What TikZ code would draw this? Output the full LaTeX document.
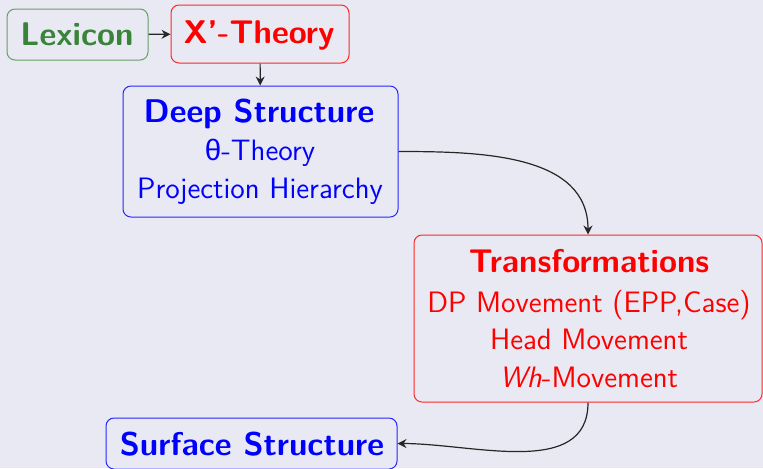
\documentclass[tikz,border=0pt]{standalone}
\usepackage{fontspec}
\usetikzlibrary{arrows.meta}
\newfontfamily\grk{Liberation Sans}
\definecolor{bg}{RGB}{233,233,243}
\definecolor{lexgreen}{RGB}{58,132,58}
\definecolor{lexborder}{RGB}{100,160,100}
\begin{document}
\begin{tikzpicture}[x=0.5pt,y=-0.5pt,
  box/.style={draw,rounded corners=4pt,line width=0.5pt,inner sep=0pt},
  title/.style={anchor=base,inner sep=0pt,font=\sffamily\bfseries\fontsize{16.4}{20}\selectfont},
  body/.style={anchor=base,inner sep=0pt,font=\sffamily\fontsize{14.76}{18}\selectfont},
  conn/.style={-{Stealth[length=4.5pt,width=4.5pt,inset=1.5pt]},line width=0.6pt,draw=black!85}]
\fill[bg] (0,0) rectangle (763,468);
\useasboundingbox (0,0) rectangle (763,468);
% boxes
\node[box,draw=lexborder,minimum width=70.5pt,minimum height=25.5pt] (lex) at (77.5,34.5) {};
\node[box,draw=red!85,minimum width=89pt,minimum height=29pt] (xbar) at (260,34) {};
\node[box,draw=blue!85,minimum width=137.5pt,minimum height=65.5pt] (deep) at (260.5,151.5) {};
\node[box,draw=red!85,minimum width=174pt,minimum height=83.5pt] (trans) at (588,318.5) {};
\node[box,draw=blue!85,minimum width=145.5pt,minimum height=25.5pt] (surf) at (251.5,443.5) {};
% texts
\node[title,text=lexgreen] (lext) at (77,45) {Lexicon};
\node[title,text=red] (xbart) at (259,43) {X'-Theory};
\node[title,text=blue] (deept) at (259,122) {Deep Structure};
\node[body,text=blue] (theta) at (260,160) {{\grk θ}-Theory};
\node[body,text=blue] (proj) at (260,198) {Projection Hierarchy};
\node[title,text=red] (transt) at (589,272) {Transformations};
\node[body,text=red] (dpm) at (589,312) {DP Movement (EPP,Case)};
\node[body,text=red] (headm) at (589,349) {Head Movement};
\node[body,text=red] (whm) at (589,387) {\textit{Wh}-Movement};
\node[title,text=blue] (surft) at (252,455) {Surface Structure};
% connectors
\draw[conn] (lex) -- (xbar);
\draw[conn] (xbar) -- (deep);
\draw[conn] (deep.east) to[out=0,in=90] (trans.north);
\draw[conn] (trans.south) to[out=-90,in=0] (surf.east);
\end{tikzpicture}
\end{document}
